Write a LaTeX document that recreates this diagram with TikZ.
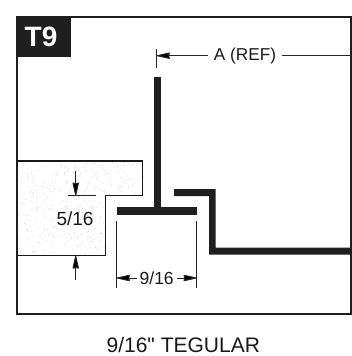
\documentclass[tikz,border=0pt]{standalone}
\usepackage{fontspec}
\setmainfont[Ligatures=TeXOff]{Liberation Sans}
\usetikzlibrary{arrows.meta}
\tikzset{
	dimline/.style={line width=1pt, black!85},
	dimarrow/.style={dimline, -{Stealth[length=15pt,width=6.5pt,inset=0.6pt,round=false,fill=black]}},
	metal/.style={fill=black!88, draw=none},
	label/.style={inner sep=0pt, text=black!90}
}
\begin{document}
\begin{tikzpicture}[x=1pt, y=-1pt]
		%%%%% START %%%%%
		\useasboundingbox (0, 0) rectangle (352, 356);
		
		% tile
		\begin{scope}
			\clip (17, 161) -- (142.7, 161) -- (142.7, 195.7) -- (105.7, 195.7) -- (105.7, 255.3) -- (17, 255.3) -- cycle;
			\pgfmathsetseed{916}
			\foreach \i in {1,...,420} {
				\fill[black!22] ({17+rnd*126}, {161+rnd*95}) circle (0.45);
			}
		\end{scope}
		\draw[line width=1.2pt, black!90] (17, 161) -- (142.7, 161) -- (142.7, 195.7) -- (105.7, 195.7) -- (105.7, 255.3) -- (17, 255.3);
		
		% frame
		\draw[line width=2.4pt, black!88] (17, 17) rectangle (351, 314);
		\fill[black!88] (15.8, 15.8) rectangle (71, 57);
		\node[inner sep=0pt, text=white] (tag) at (41, 37.3) {\fontsize{28}{28}\selectfont\bfseries T9};
		
		% tee
		\fill[metal] (153.5, 77) rectangle (161, 214);
		\fill[metal] (116.7, 207.3) rectangle (197.3, 214.7);
		
		% wall angle
		\fill[metal] (174, 189) -- (215.7, 189) -- (215.7, 247.7) -- (351, 247.7) -- (351, 254.7) -- (209, 254.7) -- (209, 196) -- (174, 196) -- cycle;
		
		% A (REF)
		\node[label] (aref) at (245, 56) {\fontsize{17.2}{17.2}\selectfont A (REF)};
		\coordinate (arefleft) at (156.7, 55.7);
		\coordinate (arefright) at (351, 55.7);
		\draw[dimline] (156.7, 49) -- (156.7, 68);
		\draw[dimarrow] ([xshift=-6pt]aref.west |- arefleft) -- (arefleft);
		\draw[dimline] ([xshift=6pt]aref.east |- arefright) -- (arefright);
		
		% 5/16
		\node[label] (fivesix) at (75, 219) {\fontsize{19}{19}\selectfont 5/16};
		\coordinate (fiveup) at (75.7, 195.7);
		\coordinate (fivedown) at (75.7, 255.5);
		\coordinate (fiveupstart) at (75.7, 170.7);
		\coordinate (fivedownstart) at (75.7, 280);
		\draw[dimline] (68, 195.7) -- (96, 195.7);
		\draw[dimarrow] (fiveupstart) -- (fiveup);
		\draw[dimarrow] (fivedownstart) -- (fivedown);
		
		% 9/16
		\node[label] (ninesix) at (156.7, 278) {\fontsize{17.5}{17.5}\selectfont 9/16};
		\coordinate (nineleft) at (116.7, 278);
		\coordinate (nineright) at (196.7, 278);
		\draw[dimline] (116.7, 220.7) -- (116.7, 288.3);
		\draw[dimline] (196.7, 220.7) -- (196.7, 288.3);
		\draw[dimarrow] ([xshift=-2.5pt]ninesix.west |- nineleft) -- (nineleft);
		\draw[dimarrow] ([xshift=3pt]ninesix.east |- nineright) -- (nineright);
		
		\node[label] (caption) at (183.3, 344.6) {\fontsize{21}{21}\selectfont 9/16" TEGULAR};
		%%%%% END %%%%%
	\end{tikzpicture}
\end{document}
